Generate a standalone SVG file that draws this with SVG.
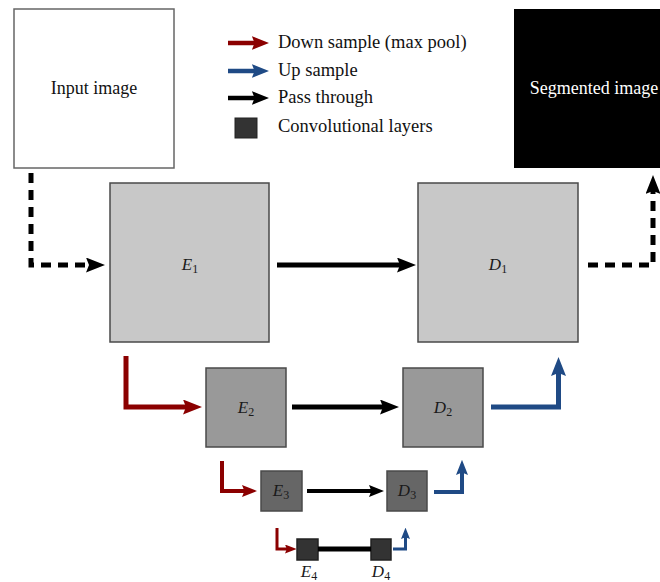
<svg xmlns="http://www.w3.org/2000/svg" width="660" height="582" viewBox="0 0 660 582">
<style>
  .box{stroke:#4a4a4a;stroke-width:1.5}
  .l1{fill:#c8c8c8}
  .l2{fill:#999999}
  .l3{fill:#666666}
  .l4{fill:#333333}
  .txt{font-size:18px;fill:#111}
  .leg{font-size:18.5px}
  .lab{font-size:17px;font-style:italic;fill:#1a1a1a;text-anchor:middle}
  .sub{font-size:12px;font-style:normal}
  .c{fill:none;stroke-linejoin:miter;stroke-linecap:butt}
  .red{stroke:#8b0000}
  .blue{stroke:#1f4a85}
  .blk{stroke:#000}
  .dash{stroke-dasharray:10 7}
</style>
<defs>
  <marker id="hr" viewBox="0 0 3.8 3" refX="1" refY="1.5" markerWidth="3.8" markerHeight="3" orient="auto" markerUnits="strokeWidth">
    <path d="M0,0 L3.8,1.5 L0,3 L0.6,1.5 z" fill="#8b0000"/>
  </marker>
  <marker id="hb" viewBox="0 0 3.8 3" refX="1" refY="1.5" markerWidth="3.8" markerHeight="3" orient="auto" markerUnits="strokeWidth">
    <path d="M0,0 L3.8,1.5 L0,3 L0.6,1.5 z" fill="#1f4a85"/>
  </marker>
  <marker id="hk" viewBox="0 0 3.8 3" refX="1" refY="1.5" markerWidth="3.8" markerHeight="3" orient="auto" markerUnits="strokeWidth">
    <path d="M0,0 L3.8,1.5 L0,3 L0.6,1.5 z" fill="#000"/>
  </marker>
</defs>
<rect width="660" height="582" fill="#fff"/>
<g font-family="Liberation Serif, DejaVu Serif, serif">
<g id="input">
  <rect x="14" y="9" width="160" height="159" fill="#fff" stroke="#666" stroke-width="1.5"/>
  <text class="txt" x="94" y="94" text-anchor="middle">Input image</text>
</g>
<g id="segmented">
  <rect x="514" y="9" width="160" height="159" fill="#000"/>
  <text class="txt" x="594" y="94" text-anchor="middle" style="fill:#fff">Segmented image</text>
</g>

<g id="legend">
  <path class="c red" d="M228,43 H256.4" stroke-width="4.5" marker-end="url(#hr)"/>
  <path class="c blue" d="M228,71 H256.4" stroke-width="4.5" marker-end="url(#hb)"/>
  <path class="c blk" d="M228,98 H256.4" stroke-width="4.5" marker-end="url(#hk)"/>
  <rect x="235" y="118" width="22" height="20" fill="#333" stroke="#222" stroke-width="1"/>
  <text class="txt leg" x="278" y="48">Down sample (max pool)</text>
  <text class="txt leg" x="278" y="76">Up sample</text>
  <text class="txt leg" x="278" y="103">Pass through</text>
  <text class="txt leg" x="278" y="132">Convolutional layers</text>
</g>

<g id="E1">
  <rect class="box l1" x="110" y="183" width="159" height="159"/>
  <text class="lab" x="190" y="270">E<tspan class="sub" dy="3">1</tspan></text>
</g>
<g id="D1">
  <rect class="box l1" x="418" y="183" width="160" height="159"/>
  <text class="lab" x="498" y="270">D<tspan class="sub" dy="3">1</tspan></text>
</g>
<g id="E2">
  <rect class="box l2" x="206" y="368" width="80" height="79"/>
  <text class="lab" x="246" y="413">E<tspan class="sub" dy="3">2</tspan></text>
</g>
<g id="D2">
  <rect class="box l2" x="403" y="368" width="80" height="79"/>
  <text class="lab" x="443" y="413">D<tspan class="sub" dy="3">2</tspan></text>
</g>
<g id="E3">
  <rect class="box l3" x="261" y="471" width="41" height="40"/>
  <text class="lab" x="281" y="496">E<tspan class="sub" dy="3">3</tspan></text>
</g>
<g id="D3">
  <rect class="box l3" x="387" y="471" width="40" height="40"/>
  <text class="lab" x="407" y="496">D<tspan class="sub" dy="3">3</tspan></text>
</g>
<g id="E4">
  <rect class="box l4" x="297" y="539" width="21" height="21" style="stroke:#222"/>
  <text class="lab" x="309" y="577">E<tspan class="sub" dy="3">4</tspan></text>
</g>
<g id="D4">
  <rect class="box l4" x="371" y="539" width="20" height="21" style="stroke:#222"/>
  <text class="lab" x="381" y="577">D<tspan class="sub" dy="3">4</tspan></text>
</g>
</g>

<g id="connectors">
  <path class="c blk dash" d="M31,173 V265 H91" stroke-width="5" marker-end="url(#hk)"/>
  <path class="c blk" d="M277,265 H402" stroke-width="5" marker-end="url(#hk)"/>
  <path class="c blk dash" d="M588,265 H653 V189" stroke-width="5" marker-end="url(#hk)"/>

  <path class="c red" d="M126,356 V407 H188" stroke-width="5" marker-end="url(#hr)"/>
  <path class="c blk" d="M292,407 H385" stroke-width="5" marker-end="url(#hk)"/>
  <path class="c blue" d="M491,407 H558.5 V371" stroke-width="5" marker-end="url(#hb)"/>

  <path class="c red" d="M222,461 V491 H246" stroke-width="4" marker-end="url(#hr)"/>
  <path class="c blk" d="M307,491 H373" stroke-width="4" marker-end="url(#hk)"/>
  <path class="c blue" d="M434,492 H462 V471" stroke-width="4" marker-end="url(#hb)"/>

  <path class="c red" d="M277,528 V549 H288" stroke-width="3" marker-end="url(#hr)"/>
  <path class="c blk" d="M318,549 H371" stroke-width="5"/>
  <path class="c blue" d="M393,549 H405.5 V536" stroke-width="3" marker-end="url(#hb)"/>
</g>
</svg>
